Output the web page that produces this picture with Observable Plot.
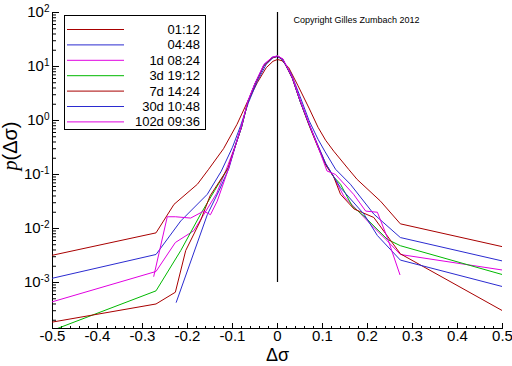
<!DOCTYPE html>
<html><head><meta charset="utf-8">
<script src="https://cdn.jsdelivr.net/npm/d3@7"></script>
<script src="https://cdn.jsdelivr.net/npm/@observablehq/plot@0.6"></script>
<style>
body{margin:0;background:#fff;}
#wrap{position:relative;width:512px;height:366px;font-family:"Liberation Sans",Arial,sans-serif;}
#legend{position:absolute;left:64px;top:15px;}
</style>
</head><body><div id="wrap"></div>
<script>
// ---- data (Δσ, p(Δσ)) per series ----
const seriesLabels = ["01:12", "04:48", "1d 08:24", "3d 19:12", "7d 14:24", "30d 10:48", "102d 09:36"];
const seriesColors = ["#a80000", "#2b2bd0", "#e000e0", "#00b800", "#a80000", "#2b2bd0", "#e000e0"];

const s1 = [[-0.5,3.2e-3],[-0.27,8.3e-3],[-0.23,0.028],[-0.178,0.066],[-0.153,0.125],[-0.12,0.3],[-0.09,0.85],[-0.067,2.2],[-0.045,5],[-0.025,9.5],[-0.01,12.5],[0,13.5],[0.01,12.8],[0.025,9.5],[0.045,4.5],[0.07,1.7],[0.09,0.75],[0.107,0.43],[0.125,0.27],[0.158,0.125],[0.177,0.081],[0.229,0.032],[0.273,0.0122],[0.5,4.6e-3]];
const s2 = [[-0.5,1.2e-3],[-0.27,3.3e-3],[-0.215,0.0138],[-0.156,0.043],[-0.125,0.115],[-0.1,0.32],[-0.082,0.8],[-0.065,2.1],[-0.045,5.3],[-0.025,11],[-0.01,14.5],[0,15.3],[0.01,13.5],[0.03,7.5],[0.05,2.8],[0.07,1.0],[0.09,0.45],[0.105,0.27],[0.129,0.125],[0.162,0.066],[0.214,0.0185],[0.273,6.8e-3],[0.5,2.5e-3]];
const s3 = [[-0.5,4.4e-4],[-0.27,1.6e-3],[-0.227,5.5e-3],[-0.186,9.1e-3],[-0.164,0.018],[-0.135,0.045],[-0.11,0.15],[-0.093,0.36],[-0.08,0.8],[-0.065,2.3],[-0.05,4.8],[-0.03,10.5],[-0.012,14.5],[0,15.5],[0.012,13.5],[0.033,6.3],[0.05,2.4],[0.07,0.87],[0.088,0.38],[0.107,0.16],[0.125,0.09],[0.147,0.04],[0.207,0.012],[0.244,5.9e-3],[0.273,3.3e-3],[0.5,1.7e-3]];
const s4 = [[-0.5,1.3e-4],[-0.27,7e-4],[-0.215,3.9e-3],[-0.17,0.019],[-0.14,0.05],[-0.108,0.14],[-0.093,0.36],[-0.08,0.75],[-0.066,2.2],[-0.05,4.8],[-0.03,10.5],[-0.012,14.5],[0,15.6],[0.012,13.5],[0.033,6.1],[0.05,2.3],[0.07,0.84],[0.088,0.36],[0.107,0.155],[0.125,0.09],[0.14,0.066],[0.166,0.026],[0.192,0.017],[0.244,6.3e-3],[0.273,4.8e-3],[0.5,1.4e-3]];
const s5 = [[-0.5,1.85e-4],[-0.27,4.0e-4],[-0.227,6.6e-4],[-0.204,3.9e-3],[-0.171,0.014],[-0.15,0.04],[-0.11,0.13],[-0.093,0.35],[-0.08,0.75],[-0.066,2.2],[-0.05,4.7],[-0.03,10.5],[-0.012,14.5],[0,15.5],[0.012,13.5],[0.033,6],[0.05,2.3],[0.07,0.82],[0.088,0.35],[0.107,0.15],[0.125,0.09],[0.14,0.043],[0.17,0.023],[0.214,0.016],[0.273,3.4e-3],[0.5,3e-4]];
const s6 = [[-0.225,4.3e-4],[-0.156,0.018],[-0.13,0.05],[-0.108,0.13],[-0.093,0.35],[-0.08,0.75],[-0.066,2.2],[-0.05,4.8],[-0.03,10.8],[-0.012,14.8],[0,15.6],[0.012,13.5],[0.033,6.1],[0.05,2.3],[0.07,0.85],[0.088,0.37],[0.107,0.16],[0.14,0.057],[0.192,0.0185],[0.222,7.4e-3],[0.273,2.6e-3],[0.5,8.4e-4]];
const s7 = [[-0.275,1.3e-3],[-0.245,0.0165],[-0.227,0.0165],[-0.193,0.0156],[-0.164,0.021],[-0.149,0.018],[-0.134,0.032],[-0.11,0.12],[-0.093,0.36],[-0.08,0.78],[-0.066,2.3],[-0.05,4.9],[-0.03,11],[-0.012,14.8],[0,15.8],[0.012,13.8],[0.033,6.3],[0.05,2.4],[0.07,0.88],[0.096,0.24],[0.11,0.116],[0.129,0.1],[0.169,0.043],[0.196,0.021],[0.222,0.02],[0.244,6.8e-3],[0.272,1.4e-3]];
const allSeries = [s1, s2, s3, s4, s5, s6, s7];

const xTicks = [-0.5,-0.4,-0.3,-0.2,-0.1,0,0.1,0.2,0.3,0.4,0.5];
const yTicks = [1e-3,1e-2,1e-1,1,10,100];
const xDomain = [-0.5, 0.5];
const yDomain = [Math.pow(10,-3.852), 100];
const centerRule = {x: 0, from: 1e-3, to: 100};
const copyright = "Copyright Gilles Zumbach 2012";

// ---- build table ----
const rows = [];
allSeries.forEach((s, i) => s.forEach(([x, p]) => rows.push({series: seriesLabels[i], x, p})));
const xMinor = d3.range(-25, 26).map(k => k / 50);
const yMinor = [];
for (let e = -4; e <= 1; e++) for (let k = 2; k <= 9; k++) { const v = k * Math.pow(10, e); if (v >= yDomain[0] && v <= yDomain[1]) yMinor.push(v); }

const font = "Liberation Sans, Arial, sans-serif";
const chart = Plot.plot({
  width: 512, height: 366,
  marginLeft: 52, marginRight: 10, marginTop: 12, marginBottom: 38,
  style: {fontFamily: font, fontSize: "15px", background: "#fff", color: "#000", overflow: "visible"},
  x: {domain: xDomain, axis: null},
  y: {type: "log", domain: yDomain, axis: null},
  color: {domain: seriesLabels, range: seriesColors},
  marks: [
    Plot.axisX(xTicks, {anchor: "bottom", tickSize: 0, tickPadding: 2, tickFormat: d => d === 0 ? "0" : d.toFixed(1), label: null, fontSize: 15}),
    Plot.axisX(xTicks, {anchor: "top", frameAnchor: "bottom", tickSize: 6, fill: "none", label: null}),
    Plot.axisX(xMinor, {anchor: "top", frameAnchor: "bottom", tickSize: 3, fill: "none", label: null}),
    Plot.axisY(yTicks, {anchor: "left", tickSize: 0, tickPadding: 3, tickFormat: d => "10^" + Math.round(Math.log10(d)), label: null, fontSize: 15}),
    Plot.axisY(yTicks, {anchor: "right", frameAnchor: "left", tickSize: 6, fill: "none", label: null}),
    Plot.axisY(yMinor, {anchor: "right", frameAnchor: "left", tickSize: 3, fill: "none", label: null}),
    Plot.ruleX([xDomain[0]], {stroke: "#000"}),
    Plot.ruleY([yDomain[0]], {stroke: "#000"}),
    Plot.ruleX([centerRule.x], {y1: centerRule.from, y2: centerRule.to, stroke: "#000", strokeWidth: 1.2}),
    Plot.line(rows, {x: "x", y: "p", z: "series", stroke: "series", strokeWidth: 1, clip: true}),
    Plot.text(["Δσ"], {frameAnchor: "bottom", dy: 32, fontSize: 18, fill: "#000"}),
    Plot.text(["p(Δσ)"], {frameAnchor: "left", dx: -42, rotate: -90, fontSize: 20, fill: "#000", className: "ylab"}),
    Plot.text([copyright], {frameAnchor: "top-right", dx: -83, dy: 4, fontSize: 9, fill: "#000"})
  ]
});

// superscripts on y tick labels
d3.select(chart).selectAll('g[aria-label="y-axis tick label"] text').each(function() {
  const t = this.textContent;
  if (!t.startsWith("10^")) return;
  const exp = t.slice(3);
  const sel = d3.select(this);
  sel.text("10");
  sel.append("tspan").attr("dy", "-0.5em").attr("font-size", "10px").text(exp);
});
// italic p in y label
d3.select(chart).selectAll('.ylab text').each(function() {
  const sel = d3.select(this);
  if (this.textContent !== "p(Δσ)") return;
  sel.text("");
  sel.append("tspan").attr("font-style", "italic").attr("font-family", "Liberation Serif, serif").text("p");
  sel.append("tspan").text("(Δσ)");
});

const wrap = document.getElementById("wrap");
wrap.appendChild(chart);

// legend box
const lg = d3.select(wrap).append("svg").attr("id", "legend").attr("width", 142).attr("height", 115);
lg.append("rect").attr("x", 0.5).attr("y", 0.5).attr("width", 141).attr("height", 114).attr("fill", "#fff").attr("stroke", "#000");
seriesLabels.forEach((lab, i) => {
  const y = 14.5 + i * 15.4;
  lg.append("line").attr("x1", 3).attr("x2", 60).attr("y1", y).attr("y2", y).attr("stroke", seriesColors[i]).attr("stroke-width", 1);
  lg.append("text").attr("x", 136).attr("y", y).attr("dy", "0.35em").attr("text-anchor", "end")
    .attr("font-family", font).attr("font-size", 13).text(lab);
});
</script>
</body></html>
